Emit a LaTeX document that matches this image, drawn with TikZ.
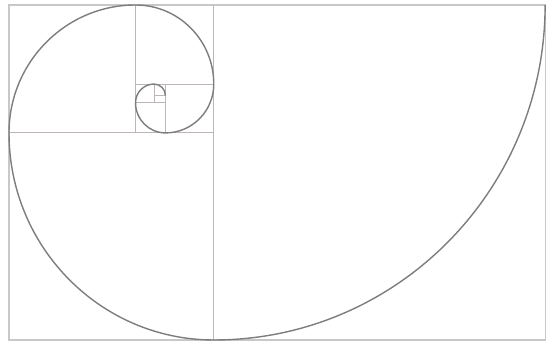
\documentclass[tikz,border=0pt]{standalone}
\usepackage{xcolor}
\usepackage{tikz}
\usetikzlibrary{calc}
\definecolor{gridgray}{RGB}{190, 182, 182}
\definecolor{framegray}{RGB}{200, 200, 200}
\definecolor{spiralgray}{RGB}{125, 125, 125}

\begin{document}
\begin{tikzpicture}[x=0.03cm, y=0.03cm,
    gridline/.style={draw=gridgray, line width=0.8pt},
    spiral/.style={draw=spiralgray, line width=1.2pt}]
    \useasboundingbox (0,0) rectangle (552,345);
    \begin{scope}[shift={(9,5)}, x=9.94cm, y=10.05cm]
        % Golden rectangle and its squares
        \draw[draw=framegray, line width=1pt] (0,0) rectangle (1.618,1);
        \draw[gridline] (0.618,0) -- (0.618,1);
        \draw[gridline] (0,0.618) -- (0.618,0.618);
        \draw[gridline] (0.382,0.618) -- (0.382,1);
        \draw[gridline] (0.382,0.764) -- (0.618,0.764);
        \draw[gridline] (0.472,0.618) -- (0.472,0.764);
        \draw[gridline] (0.382,0.708) -- (0.472,0.708);
        \draw[gridline] (0.438,0.708) -- (0.438,0.764);
        \draw[gridline] (0.438,0.730) -- (0.472,0.730);

        % Spiral, one quarter arc per square
        \draw[spiral] (1.618,1)
            arc[start angle=0, end angle=-90, radius=1]
            arc[start angle=-90, end angle=-180, radius=0.618]
            arc[start angle=180, end angle=90, radius=0.382]
            arc[start angle=90, end angle=0, radius=0.236]
            arc[start angle=0, end angle=-90, radius=0.1459]
            arc[start angle=-90, end angle=-180, radius=0.0902]
            arc[start angle=180, end angle=90, radius=0.0557]
            arc[start angle=90, end angle=0, radius=0.0344];
    \end{scope}
\end{tikzpicture}
\end{document}
